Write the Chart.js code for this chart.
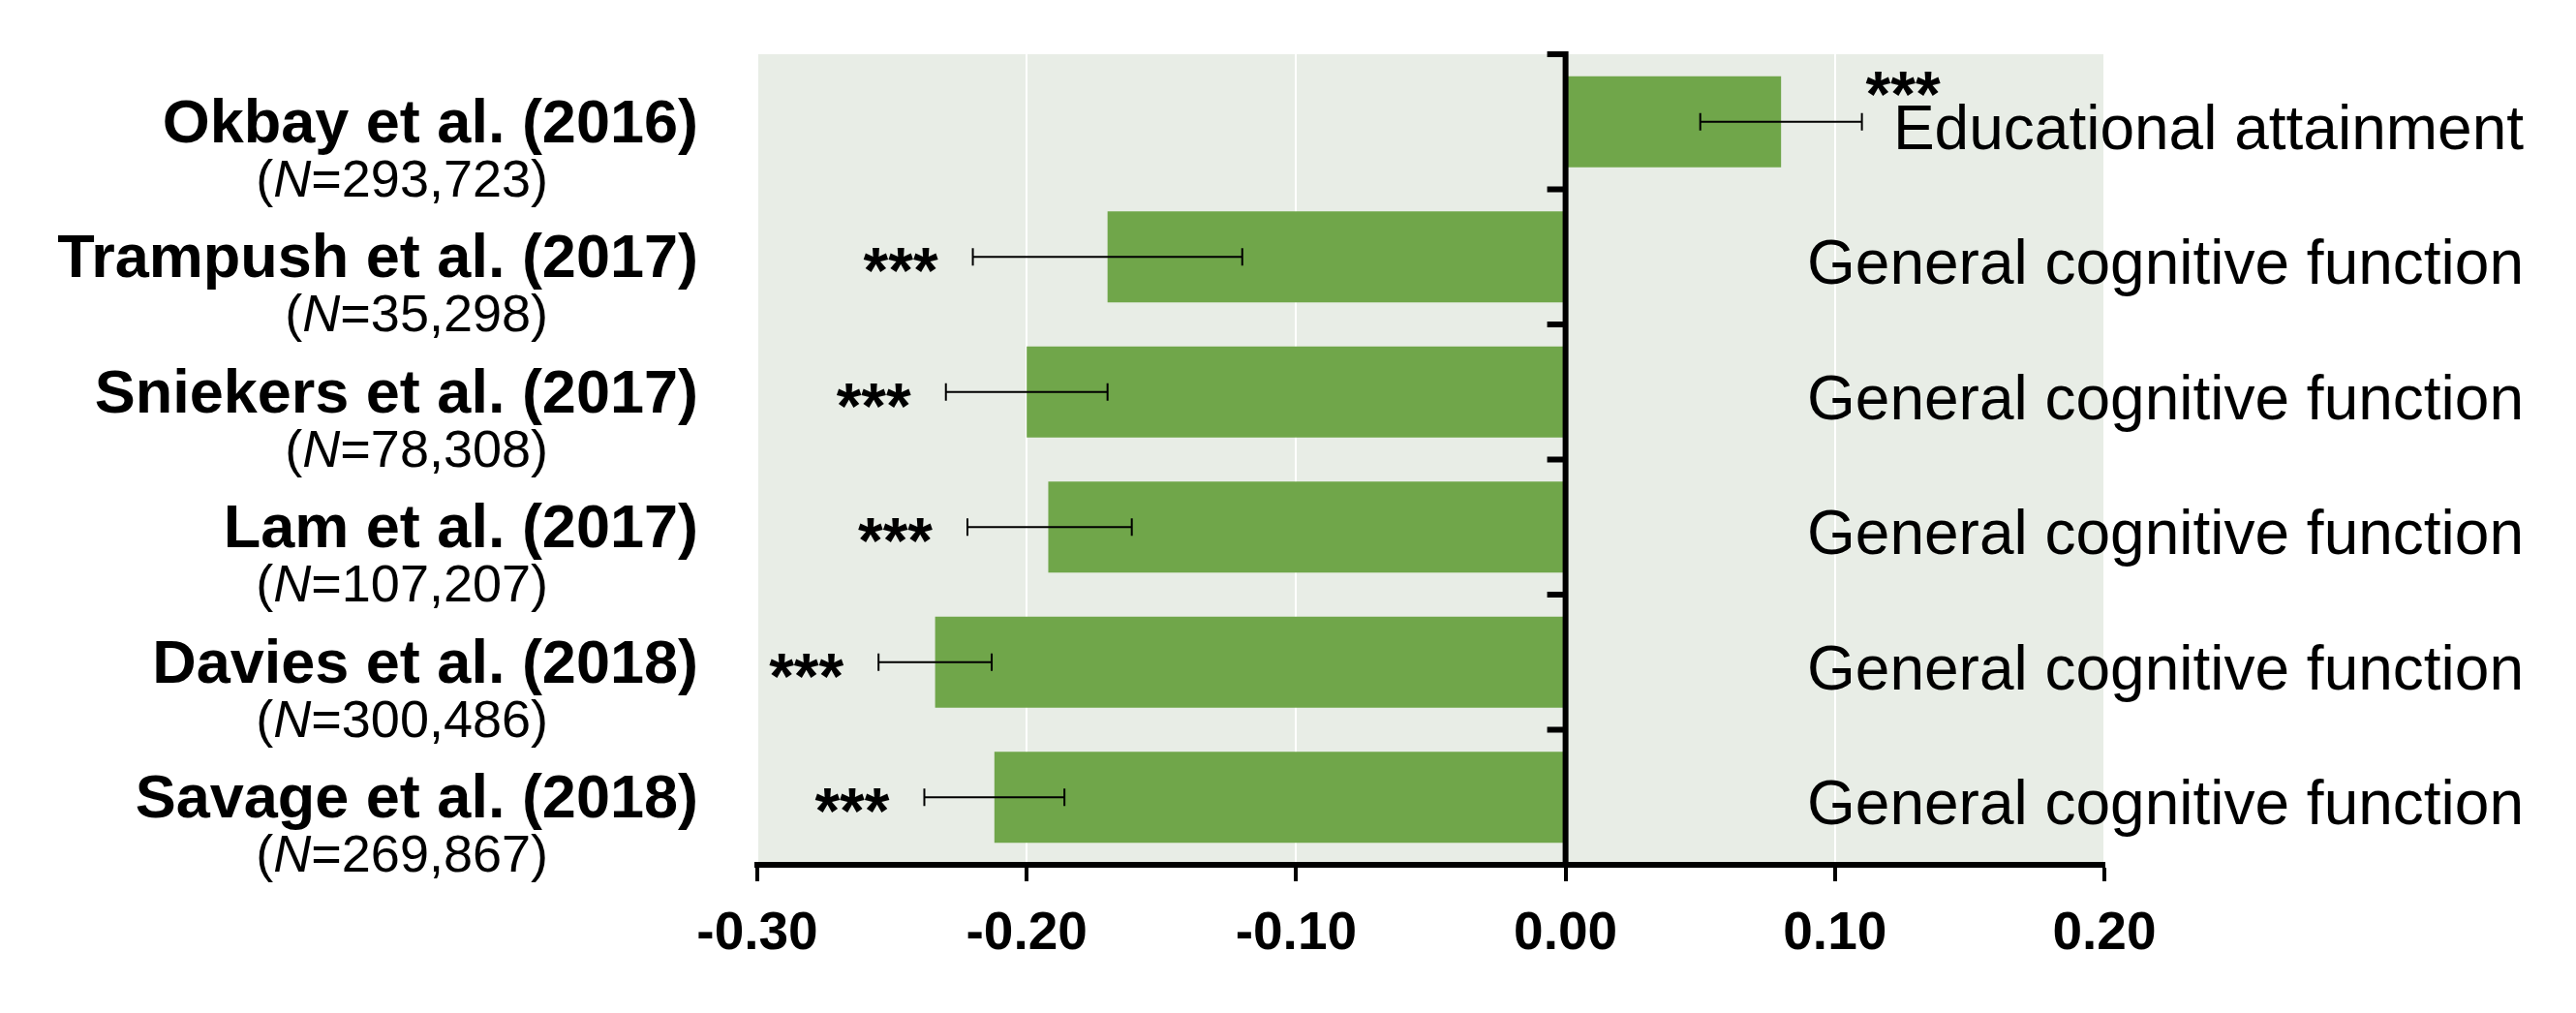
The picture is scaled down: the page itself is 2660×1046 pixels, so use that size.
<!DOCTYPE html>
<html>
<head>
<meta charset="utf-8">
<script src="https://cdn.jsdelivr.net/npm/chart.js@4.4.0/dist/chart.umd.min.js"></script>
<style>
  html, body { margin: 0; padding: 0; background: #fff; }
  #wrap { width: 2660px; height: 1046px; }
</style>
</head>
<body>
<div id="wrap"><canvas id="chart" width="2660" height="1046"></canvas></div>
<script>
// studies, top to bottom
const studies = [
  "Okbay et al. (2016)",
  "Trampush et al. (2017)",
  "Sniekers et al. (2017)",
  "Lam et al. (2017)",
  "Davies et al. (2018)",
  "Savage et al. (2018)"
];
const sampleSizes = ["293,723", "35,298", "78,308", "107,207", "300,486", "269,867"];
const phenotypes = [
  "Educational attainment",
  "General cognitive function",
  "General cognitive function",
  "General cognitive function",
  "General cognitive function",
  "General cognitive function"
];
// genetic correlation estimates and error bar ends
const estimates = [0.08, -0.17, -0.20, -0.192, -0.234, -0.212];
const ciLower = [0.05, -0.22, -0.23, -0.222, -0.255, -0.238];
const ciUpper = [0.11, -0.12, -0.17, -0.161, -0.213, -0.186];
const significance = ["***", "***", "***", "***", "***", "***"];
const xTicks = [-0.30, -0.20, -0.10, 0.00, 0.10, 0.20];

const FONT = '"Liberation Sans", Arial, sans-serif';

// background, error bars, zero line and all the texts round the plot
const annotate = {
  id: "annotate",
  beforeDraw(chart) {
    const { ctx, chartArea: a } = chart;
    ctx.save();
    ctx.fillStyle = "#e8ede6";
    ctx.fillRect(a.left, a.top, a.right - a.left, a.bottom - a.top);
    ctx.restore();
  },
  afterDatasetsDraw(chart) {
    const { ctx, chartArea: a, scales: { x, y } } = chart;
    const x0 = x.getPixelForValue(0);
    ctx.save();

    // error bars
    ctx.strokeStyle = "#000";
    ctx.lineWidth = 2;
    estimates.forEach((v, i) => {
      const cy = y.getPixelForValue(i);
      const xl = x.getPixelForValue(ciLower[i]);
      const xh = x.getPixelForValue(ciUpper[i]);
      ctx.beginPath();
      ctx.moveTo(xl, cy); ctx.lineTo(xh, cy);
      ctx.moveTo(xl, cy - 9); ctx.lineTo(xl, cy + 9);
      ctx.moveTo(xh, cy - 9); ctx.lineTo(xh, cy + 9);
      ctx.stroke();
    });

    // vertical axis at zero with its category ticks
    ctx.fillStyle = "#000";
    ctx.fillRect(x0 - 3, a.top - 3, 6, a.bottom - a.top + 3);
    for (let i = 0; i <= studies.length; i++) {
      const ty = y.getPixelForValue(i - 0.5);
      ctx.fillRect(x0 - 19, ty - 3, 19, 6);
    }

    // significance stars
    ctx.font = "bold 66px " + FONT;
    ctx.textBaseline = "alphabetic";
    estimates.forEach((v, i) => {
      const cy = y.getPixelForValue(i);
      if (v < 0) {
        ctx.textAlign = "right";
        ctx.fillText(significance[i], x.getPixelForValue(ciLower[i]) - 36, cy + 37);
      } else {
        ctx.textAlign = "left";
        ctx.fillText(significance[i], x.getPixelForValue(ciUpper[i]) + 4, cy - 6);
      }
    });
    ctx.restore();
  },
  afterDraw(chart) {
    const { ctx, scales: { y } } = chart;
    ctx.save();
    ctx.fillStyle = "#000";
    ctx.textBaseline = "alphabetic";
    studies.forEach((s, i) => {
      const cy = y.getPixelForValue(i);

      // study name
      ctx.font = "bold 63px " + FONT;
      ctx.textAlign = "right";
      ctx.fillText(s, 721, cy + 21);

      // (N=...) with italic N
      const reg = "54px " + FONT;
      const ita = "italic 54px " + FONT;
      const p1 = "(", p2 = "N", p3 = "=" + sampleSizes[i] + ")";
      ctx.font = reg;
      const w1 = ctx.measureText(p1).width;
      const w3 = ctx.measureText(p3).width;
      ctx.font = ita;
      const w2 = ctx.measureText(p2).width;
      let sx = 566 - (w1 + w2 + w3);
      ctx.textAlign = "left";
      ctx.font = reg; ctx.fillText(p1, sx, cy + 77); sx += w1;
      ctx.font = ita; ctx.fillText(p2, sx, cy + 77); sx += w2;
      ctx.font = reg; ctx.fillText(p3, sx, cy + 77);

      // phenotype on the right
      ctx.font = "64px " + FONT;
      ctx.textAlign = "right";
      ctx.fillText(phenotypes[i], 2606, cy + 28);
    });
    ctx.restore();
  }
};

new Chart(document.getElementById("chart"), {
  type: "bar",
  data: {
    labels: studies,
    datasets: [{
      data: estimates,
      backgroundColor: "#70a64a",
      borderWidth: 0,
      barPercentage: 0.674,
      categoryPercentage: 1.0
    }]
  },
  options: {
    indexAxis: "y",
    responsive: false,
    animation: false,
    devicePixelRatio: 1,
    layout: { padding: { left: 782, right: 487, top: 56, bottom: 0 } },
    plugins: { legend: { display: false }, tooltip: { enabled: false } },
    scales: {
      x: {
        min: -0.30,
        max: 0.20,
        afterBuildTicks: (s) => { s.ticks = xTicks.map((v) => ({ value: v })); },
        afterFit: (s) => { s.height = 153; },
        ticks: {
          callback: (v) => Number(v).toFixed(2),
          font: { family: FONT, size: 55, weight: "bold" },
          color: "#000",
          padding: 22,
          maxRotation: 0,
          autoSkip: false
        },
        grid: {
          color: "#ffffff",
          lineWidth: 2,
          tickColor: "#000",
          tickWidth: 4,
          tickLength: 17
        },
        border: { color: "#000", width: 6 }
      },
      y: {
        type: "category",
        display: false,
        offset: true
      }
    }
  },
  plugins: [annotate]
});
</script>
</body>
</html>
